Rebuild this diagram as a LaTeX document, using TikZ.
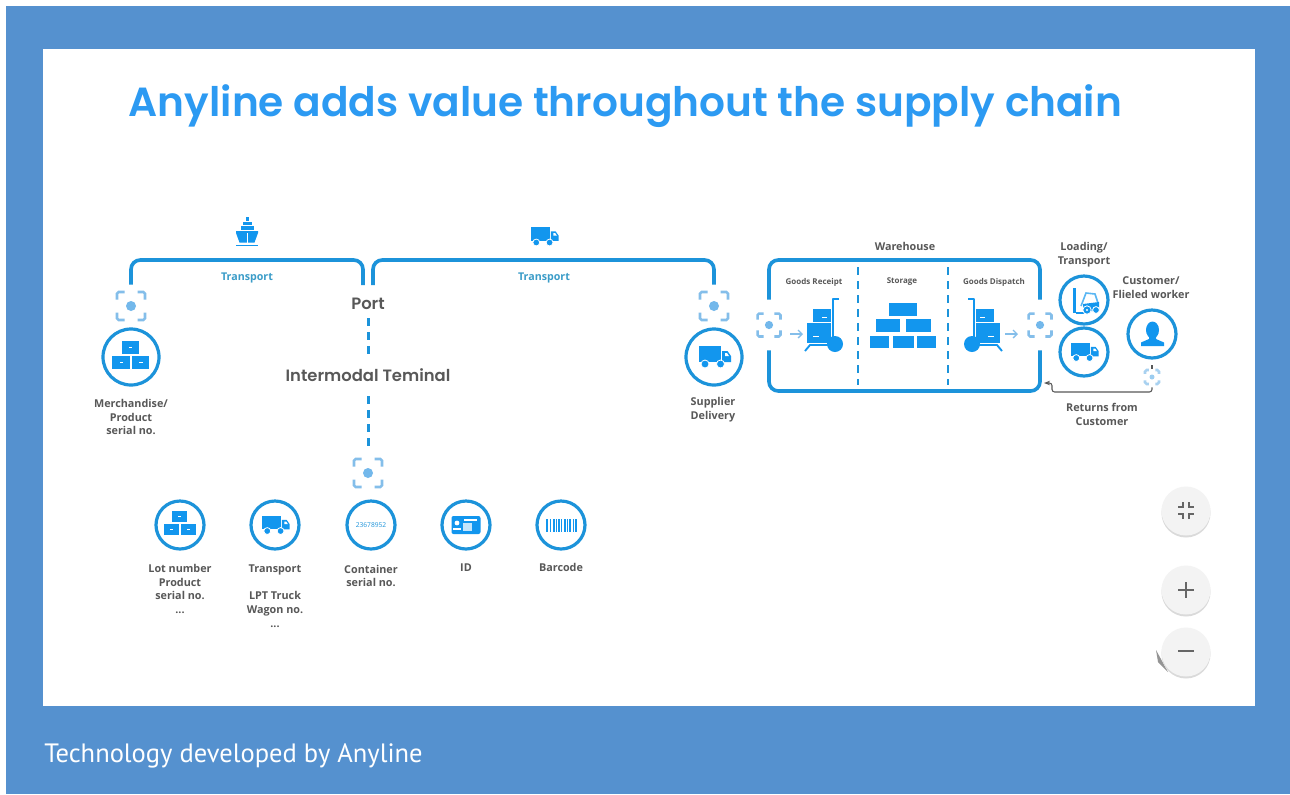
\documentclass[tikz,border=0pt]{standalone}
\usepackage{fontspec}
\usetikzlibrary{arrows.meta}
\setmainfont{Open Sans}
\newfontfamily\titlefont{Poppins SemiBold}
\newfontfamily\capfont{PT Sans}
\definecolor{framebg}{HTML}{5591CF}
\definecolor{titleblue}{HTML}{2C9AF2}
\definecolor{wireblue}{HTML}{1C93DA}
\definecolor{iconblue}{HTML}{1296EE}
\definecolor{scanblue}{HTML}{84BEEA}
\definecolor{labelgrey}{HTML}{585858}
\definecolor{tealtext}{HTML}{3A9CC8}
\definecolor{btnfill}{HTML}{F3F3F3}
\definecolor{btnshade}{HTML}{DADADA}
\definecolor{btnmark}{HTML}{666666}
\tikzset{
  wire/.style={draw=wireblue,line width=2.7pt,rounded corners=7pt},
  dashwire/.style={draw=wireblue,line width=2.25pt,dash pattern=on 6pt off 4.5pt},
  roundel/.style={circle,draw=wireblue,line width=2.4pt,inner sep=0pt,minimum size=#1*1.5pt},
  lbl/.style={font=\bfseries\fontsize{8.1}{10.4}\selectfont,text=labelgrey,align=center,inner sep=0pt},
  smalllbl/.style={font=\bfseries\fontsize{6}{8}\selectfont,text=labelgrey,inner sep=0pt},
  translbl/.style={font=\bfseries\fontsize{8}{9}\selectfont,text=tealtext,inner sep=0pt},
  bigname/.style={inner sep=0pt,text=labelgrey,font=\titlefont\fontsize{12.3}{15}\selectfont},
  scanspot/.style={inner sep=0pt,minimum size=31.5pt},
  wallgap/.style={inner sep=0pt,minimum size=37.5pt},
  btn/.style={circle,fill=btnfill,inner sep=0pt,minimum size=36.75pt},
  btnbase/.style={circle,fill=btnshade,inner sep=0pt,minimum size=36.75pt},
  pics/scanmark/.style={code={
    \draw[scanblue,line width=1.9pt,rounded corners=1.2pt] (-14,-6.5) |- (-6.5,-14) (6.5,-14) -| (14,-6.5) (14,6.5) |- (6.5,14) (-6.5,14) -| (-14,6.5);
    \fill[scanblue!85!iconblue] (0,0) circle[radius=5];
  }},
  pics/crates/.style={code={
    \fill[iconblue] (-9.3,-16) rectangle (8,-3.3);
    \fill[iconblue] (-18.7,-1) rectangle (-1,11.7);
    \fill[iconblue] (1.3,-1) rectangle (18.3,11.7);
    \fill[white] (-2.5,-10) rectangle (1,-9);
    \fill[white] (-11.5,5) rectangle (-8,6);
    \fill[white] (8,5) rectangle (11.5,6);
  }},
  pics/lorry/.style={code={
    \fill[iconblue] (-15.5,-11) rectangle (6.5,5);
    \fill[iconblue] (8,-6) -- (13.5,-6) -- (17,-1) -- (17,5) -- (8,5) -- cycle;
    \fill[white] (11,-4) -- (13,-4) -- (15,-1) -- (11,-1) -- cycle;
    \filldraw[iconblue,draw=white,line width=.6pt] (-9,7) circle[radius=4] (6.5,7) circle[radius=4];
  }},
  pics/forklift/.style={code={
    \fill[iconblue] (-11,-12) rectangle (-8,13);
    \draw[iconblue,line width=1.4pt] (-8,13) -- (0,13);
    \draw[iconblue!70,line width=1.2pt] (-3,6) -- (2,-7) -- (11,-6) -- (14,3);
    \fill[iconblue] (-1,4) -- (15,2) -- (15,11) -- (-1,11) -- cycle;
    \filldraw[iconblue,draw=white,line width=.6pt] (3,10) circle[radius=4.2] (12,10) circle[radius=3.4];
    \fill[white] (3,10) circle[radius=1.2];
  }},
  pics/person/.style={code={
    \fill[iconblue] (.5,-4) ellipse[x radius=6.5,y radius=8.5];
    \fill[iconblue] (-11,12) -- (-11,8.5) -- (-3,5) -- (-3,2) -- (4,2) -- (4,5) -- (12,8.5) -- (12,12) -- cycle;
  }},
  pics/idcard/.style={code={
    \fill[iconblue,rounded corners=1.5pt] (-14.5,-9) rectangle (14.5,9);
    \fill[white] (-9,-2) circle[radius=2.4];
    \fill[white] (-13,5) -- (-13,3) -- (-5,3) -- (-5,5) -- cycle;
    \fill[white!75!iconblue] (-3,-2) rectangle (6,6);
    \fill[white] (-2,-6) rectangle (11,-4.5);
  }},
  pics/barcode/.style={code={
    \foreach \xa/\wa in {-15/2.4,-11/1,-8/2,-5/1,-3/2.4,0/1,2.5/2,6/1,8/2.4,11.5/1,13.5/2}
      \fill[iconblue] (\xa,-6.5) rectangle ++(\wa,13);
  }},
  pics/ship/.style={code={
    \fill[iconblue] (-1.5,-15) rectangle (1.5,-11);
    \fill[iconblue] (-4.5,-10.5) rectangle (4.5,-7);
    \fill[iconblue] (-6.5,-6) rectangle (6.5,-2);
    \fill[iconblue] (-11,-1) -- (11,-1) -- (11,1) -- (7.5,10.5) -- (-7.5,10.5) -- (-11,1) -- cycle;
    \fill[white] (-.4,1) rectangle (.4,10.5);
    \draw[iconblue,line width=.9pt] (-11,13.5) -- (11,13.5);
  }},
  pics/trolley/.style={code={
    \fill[iconblue] (-17,-20) rectangle (1,-7);
    \fill[white] (-8,-12) rectangle (-3,-11);
    \fill[iconblue] (-23,-6) rectangle (1,14);
    \fill[white] (-17,7) rectangle (-11,8);
    \draw[iconblue,line width=1.4pt,line join=round] (9,-30) -- (3,-30) -- (3,14);
    \draw[iconblue,line width=1.4pt,line join=round] (-25,22) -- (-20,16) -- (1,16);
    \fill[iconblue] (5,15) circle[radius=8];
  }}
}
\begin{document}
\begin{tikzpicture}[x=0.75pt,y=-0.75pt]
\useasboundingbox (0,0) rectangle (1290,794);
\fill[white] (0,0) rectangle (1290,794);
\fill[framebg] (6,6) rectangle (1290,794);
\fill[white] (43,49) rectangle (1255,706);
\node[inner sep=0pt,anchor=base,text=titleblue,font=\titlefont\fontsize{30.5}{36}\selectfont] (headline) at (625.5,116) {Anyline adds value throughout the supply chain};
\node[inner sep=0pt,anchor=base west,text=white,font=\capfont\fontsize{19.9}{22}\selectfont] (caption) at (44,762) {Technology developed by Anyline};

\node[scanspot] (scanmerch) at (131,306) {}; \pic at (131,306) {scanmark};
\node[scanspot] (scansupply) at (714,306) {}; \pic at (714,306) {scanmark};
\node[scanspot] (scancont) at (368,473) {}; \pic at (368,473) {scanmark};
\node[wallgap] (scanin) at (769,325) {}; \pic[scale=.82] at (769,325) {scanmark};
\node[wallgap] (scanout) at (1040,325) {}; \pic[scale=.82] at (1040,325) {scanmark};

\coordinate (portl) at (363,285);
\coordinate (portr) at (373,285);
\coordinate (seatop) at (247,260);
\coordinate (roadtop) at (544,260);
\coordinate (whtop) at (904,260);
\coordinate (whbot) at (904,391);
\draw[wire] (scanmerch.north) |- (seatop) -| (portl);
\draw[wire] (portr) |- (roadtop) -| (scansupply.north);
\draw[wire] (scanin.north) |- (whtop) -| (scanout.north);
\draw[wire] (scanin.south) |- (whbot) -| (scanout.south);

\node[translbl] (transa) at (247,278) {Transport};
\node[translbl] (transb) at (544,278) {Transport};
\pic at (247,232) {ship};
\pic[scale=.86] at (544,236.5) {lorry};

\node[bigname,minimum height=21pt] (port) at (368,304) {Port};
\node[bigname,minimum height=31.5pt] (intermodal) at (368,375) {Intermodal Teminal};
\draw[dashwire] (port) -- (intermodal);
\draw[dashwire] (intermodal) -- (scancont);

\node[roundel=28] (merch) at (131,357) {}; \pic at (131,357) {crates};
\node[roundel=28] (supply) at (714,357) {}; \pic at (714,357) {lorry};
\node[lbl] (merchtxt) at (131,417) {Merchandise/\\Product\\serial no.};
\node[lbl] (supplytxt) at (713,410) {Supplier\\Delivery};

\node[roundel=24] (lot) at (180,525) {}; \pic[scale=.86] at (180,525) {crates};
\node[roundel=24] (road) at (275,525) {}; \pic[scale=.86] at (275,525) {lorry};
\node[roundel=24] (cont) at (371,525) {};
\node[inner sep=0pt,text=wireblue,font=\fontsize{5}{6}\selectfont] (contno) at (371,525) {23678952};
\node[roundel=24] (idc) at (466,525) {}; \pic at (466,525) {idcard};
\node[roundel=24] (bar) at (561,525) {}; \pic at (561,525) {barcode};
\node[lbl] (lottxt) at (180,589) {Lot number\\Product\\serial no.\\...};
\node[lbl] (roadtxt) at (275,596) {Transport\\[10.4pt]LPT Truck\\Wagon no.\\...};
\node[lbl] (conttxt) at (371,576) {Container\\serial no.};
\node[lbl] (idtxt) at (466,568) {ID};
\node[lbl] (bartxt) at (561,567) {Barcode};

\node[lbl] (wh) at (905,246) {Warehouse};
\node[smalllbl] (recv) at (814,282) {Goods Receipt};
\node[smalllbl] (stor) at (902,282) {Storage};
\node[smalllbl] (disp) at (994,282) {Goods Dispatch};
\coordinate (wallatop) at (858,267);
\coordinate (wallabot) at (858,385);
\coordinate (wallbtop) at (948,267);
\coordinate (wallbbot) at (948,385);
\draw[dashwire,line width=2.1pt] (wallatop) -- (wallabot);
\draw[dashwire,line width=2.1pt] (wallbtop) -- (wallbbot);

\pic at (830,329) {trolley};
\pic[xscale=-1] at (977,329) {trolley};
\draw[scanblue,line width=1pt,-{Straight Barb[length=3pt]}] (790,334) -- (803,334);
\draw[scanblue,line width=1pt,-{Straight Barb[length=3pt]}] (1005,334) -- (1018,334);

% stacked storage
\foreach \xa/\ya/\xb/\yb in {889/303/917/316,876/319/900/332,906/319/931/332,870/336/889/348,893/336/914/348,917/336/936/348}
  \fill[iconblue] (\xa,\ya) rectangle (\xb,\yb);

\node[roundel=24] (fork) at (1084,300) {}; \pic at (1084,300) {forklift};
\node[roundel=24] (van) at (1084,352) {}; \pic[scale=.86] at (1084,352) {lorry};
\node[roundel=24] (worker) at (1152,334) {}; \pic at (1152,334) {person};
\node[lbl] (loadtxt) at (1084,255) {Loading/\\Transport};
\node[lbl] (custtxt) at (1151,288) {Customer/\\Flieled worker};
\node[lbl] (rettxt) at (1102,414) {Returns from\\Customer};

\node[inner sep=0pt,minimum size=15pt] (scanret) at (1152,377) {};
\pic[scale=.5,opacity=.7] at (1152,377) {scanmark};
\coordinate (retbend) at (1052,392);
\coordinate (rettip) at (1044,383);
\draw[labelgrey,line width=.8pt] (1152,365) -- (1152,369);
\draw[labelgrey,line width=.8pt,rounded corners=2pt,-{Stealth[length=4.5pt]}] (scanret.south) |- (retbend) |- (rettip);

\node[btnbase] (shadefit) at (1186,513) {};
\node[btn] (fit) at (1186,511) {};
\node[btnbase] (shadeplus) at (1186,592) {};
\node[btn] (plus) at (1186,590) {};
\fill[btnmark!70] (1156,650) -- (1158,662) -- (1168,672) -- cycle;
\node[btnbase] (shademinus) at (1186,654) {};
\node[btn] (minus) at (1186,652) {};
\draw[btnmark,line width=1.7pt] (1178,507) -- (1183,507) -- (1183,502) (1189,502) -- (1189,507) -- (1194,507) (1178,514) -- (1183,514) -- (1183,519) (1189,519) -- (1189,514) -- (1194,514);
\draw[btnmark,line width=1.7pt] (1178,590) -- (1194,590) (1186,582) -- (1186,598);
\draw[btnmark,line width=2pt] (1178,651) -- (1194,651);
\end{tikzpicture}
\end{document}
